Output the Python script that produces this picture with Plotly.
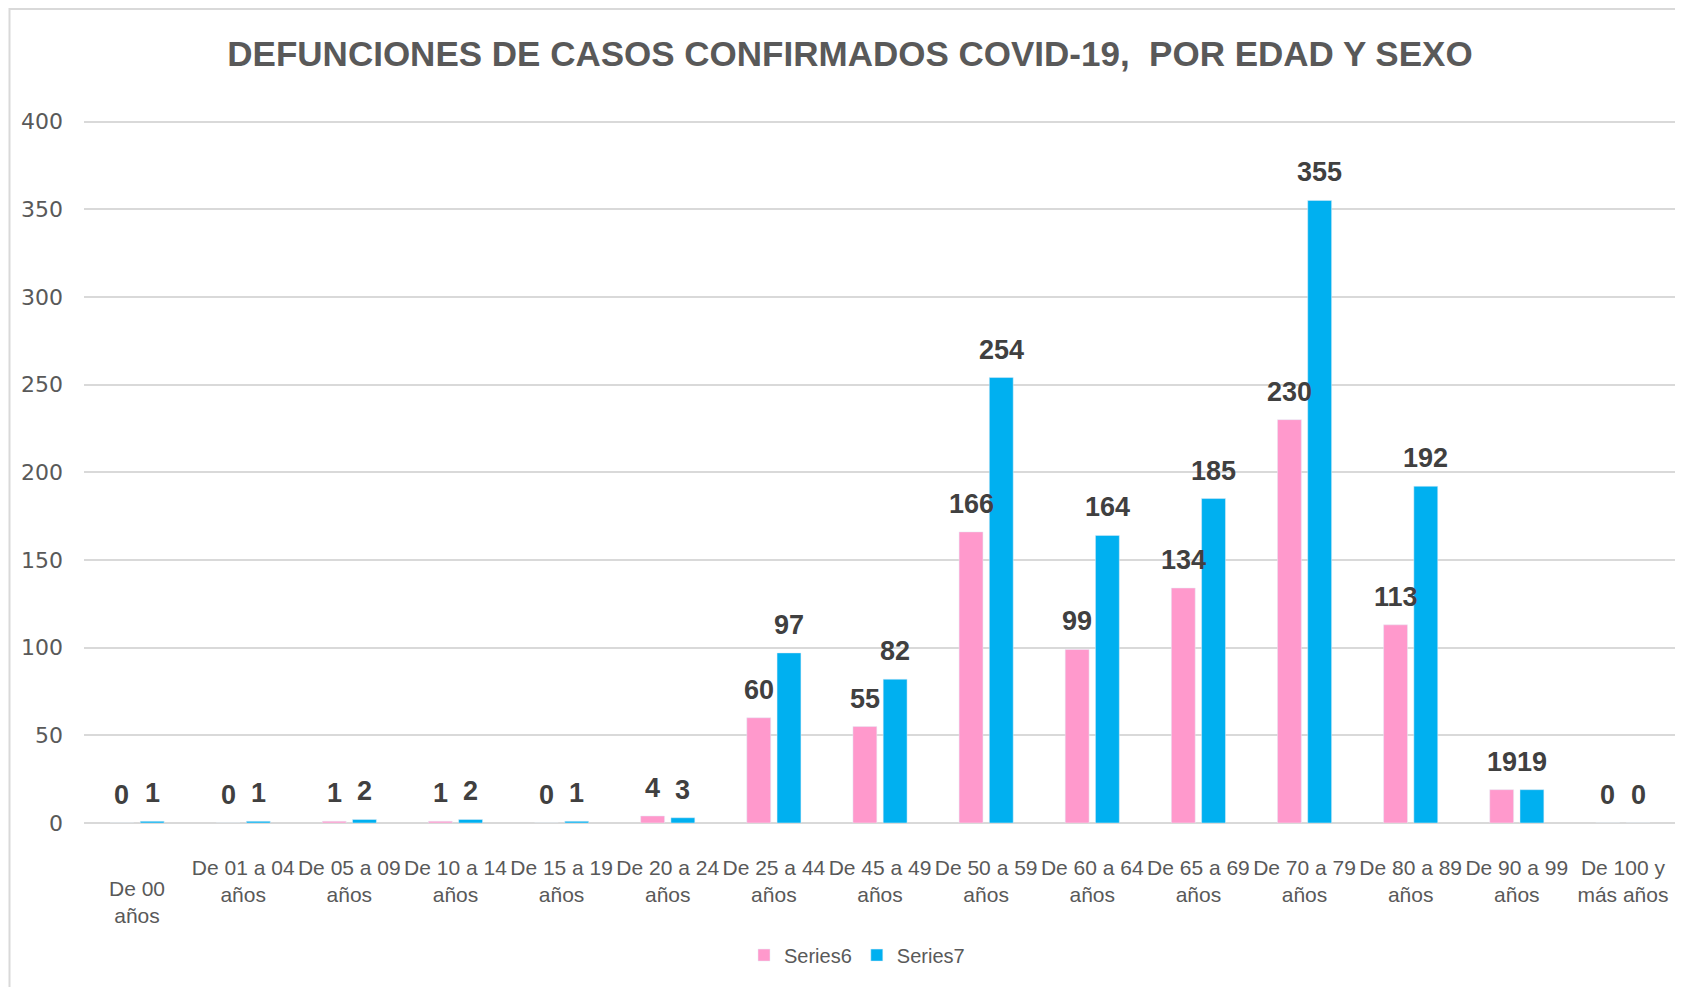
import plotly.graph_objects as go

categories = ["De 00 años", "De 01 a 04 años", "De 05 a 09 años", "De 10 a 14 años",
              "De 15 a 19 años", "De 20 a 24 años", "De 25 a 44 años", "De 45 a 49 años",
              "De 50 a 59 años", "De 60 a 64 años", "De 65 a 69 años", "De 70 a 79 años",
              "De 80 a 89 años", "De 90 a 99 años", "De 100 y más años"]
tick_labels = ["", "De 01 a 04<br>años", "De 05 a 09<br>años", "De 10 a 14<br>años",
               "De 15 a 19<br>años", "De 20 a 24<br>años", "De 25 a 44<br>años", "De 45 a 49<br>años",
               "De 50 a 59<br>años", "De 60 a 64<br>años", "De 65 a 69<br>años", "De 70 a 79<br>años",
               "De 80 a 89<br>años", "De 90 a 99<br>años", "De 100 y<br>más años"]
first_label = "De 00<br>años"
series6 = [0, 0, 1, 1, 0, 4, 60, 55, 166, 99, 134, 230, 113, 19, 0]
series7 = [1, 1, 2, 2, 1, 3, 97, 82, 254, 164, 185, 355, 192, 19, 0]
y_ticks = [0, 50, 100, 150, 200, 250, 300, 350, 400]

# page pixel layout (the page body adds an 8px offset)
OFF = 8
PAGE_W, PAGE_H = 1683, 987
W, H = PAGE_W - OFF, PAGE_H - OFF
Y_MAX = 402
plot_left, plot_right = 84, 1676
y0_px, y400_px = 823, 122
px_per_unit = (y0_px - y400_px) / 400
plot_top = y0_px - px_per_unit * Y_MAX
L = plot_left - OFF
R = W - (plot_right - OFF)
T = plot_top - OFF
B = H - (y0_px - OFF)
BARGAP = 0.43
BARGROUPGAP = 0.21

FONT = "Liberation Sans, Arial, sans-serif"
idx = list(range(len(categories)))

fig = go.Figure()
fig.add_trace(go.Bar(x=idx, y=series6, name="Series6", marker_color="#FF99CC",
                     hovertext=categories))
fig.add_trace(go.Bar(x=idx, y=series7, name="Series7", marker_color="#00B0F0",
                     hovertext=categories))

pw = W - L - R
ph = H - T - B
def px_x(p):
    return (p - OFF - L) / pw
def px_y(p):
    return (H - B - (p - OFF)) / ph

# data labels centred above each bar
slot = (1 - BARGAP) / 2
off = slot / 2
for vals, sign in ((series6, -1), (series7, 1)):
    for i, v in enumerate(vals):
        fig.add_annotation(x=i + sign * off, y=v, xref="x", yref="y", text=str(v),
                           showarrow=False, yanchor="middle", yshift=28,
                           font=dict(family=FONT, size=27, color="#404040", weight="bold"))

# first category label sits lower in the original
fig.add_annotation(x=0, y=px_y(902), xref="x", yref="paper", text=first_label,
                   showarrow=False, yanchor="middle",
                   font=dict(family=FONT, size=21, color="#595959"))

# chart border (top & left visible)
fig.add_shape(type="rect", xref="paper", yref="paper",
              x0=px_x(OFF + 1.5), x1=px_x(PAGE_W + 20), y0=px_y(PAGE_H + 20), y1=px_y(OFF + 1.5),
              line=dict(color="#d9d9d9", width=2), layer="below")

fig.update_layout(
    width=W, height=H,
    margin=dict(l=L, r=R, t=T, b=B, pad=0),
    paper_bgcolor="white", plot_bgcolor="white",
    barmode="group", bargap=BARGAP, bargroupgap=BARGROUPGAP,
    title=dict(text="DEFUNCIONES DE CASOS CONFIRMADOS COVID-19,  POR EDAD Y SEXO",
               x=(850 - OFF) / W, xanchor="center", xref="container",
               y=1 - (54 - OFF) / H, yanchor="middle", yref="container",
               font=dict(family=FONT, size=35, color="#595959", weight="bold")),
    legend=dict(orientation="h", x=px_x(857), xanchor="center",
                y=px_y(955), yanchor="middle",
                font=dict(family=FONT, size=20, color="#595959"),
                itemwidth=30, traceorder="normal"),
    showlegend=True,
)
fig.update_xaxes(range=[-0.5, len(categories) - 0.5], tickvals=idx, ticktext=tick_labels,
                 tickangle=0, showgrid=False, zeroline=False, showline=False,
                 ticks="", ticklabelstandoff=30,
                 tickfont=dict(family=FONT, size=21, color="#595959"))
fig.update_yaxes(range=[0, Y_MAX], tickvals=y_ticks, showgrid=True, gridcolor="#d9d9d9",
                 gridwidth=2, zeroline=True, zerolinecolor="#d9d9d9", zerolinewidth=2,
                 showline=False, ticks="", ticklabelstandoff=20,
                 tickfont=dict(family="DejaVu Sans, sans-serif", size=22, color="#595959"))

fig.write_html("out.html")
